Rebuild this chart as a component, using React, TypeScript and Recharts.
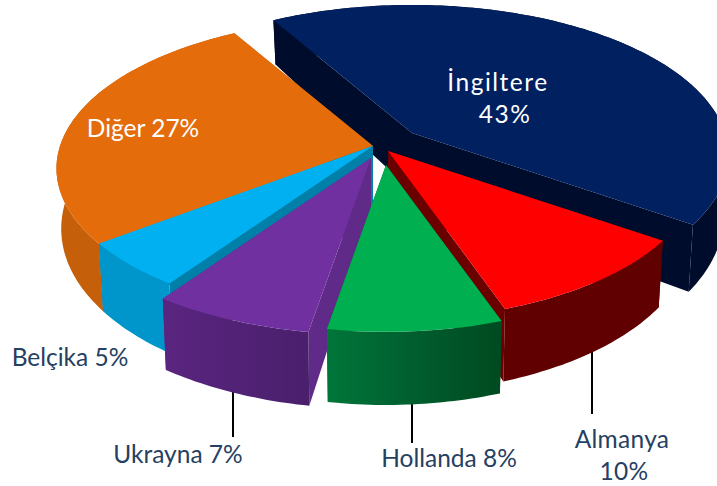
import React from 'react';
import { PieChart, Pie } from 'recharts';

const names = ['İngiltere', 'Almanya', 'Hollanda', 'Ukrayna', 'Belçika', 'Diğer'];
const shares = [43, 10, 8, 7, 5, 27];

const data = names.map((name, i) => ({ name, value: shares[i] }));

// back to front, so every slice's side wall ends up under its neighbour's top
const paintOrder = ['İngiltere', 'Diğer', 'Belçika', 'Almanya', 'Ukrayna', 'Hollanda'];

const looks: Record<string, { top: string; wall: string; side: string; dx: number; dy: number; grow: number }> = {
  'İngiltere': { top: '#002060', wall: '#000c2c', side: '#000c2c', dx: 37, dy: -17, grow: 1 },
  'Almanya': { top: '#ff0000', wall: '#600000', side: '#6b0000', dx: 13, dy: 1, grow: 0.98 },
  'Hollanda': { top: '#00b050', wall: 'url(#wall-green)', side: '#005c2a', dx: 11, dy: 15, grow: 0.97 },
  'Ukrayna': { top: '#7030a0', wall: 'url(#wall-purple)', side: '#5f2a88', dx: -4, dy: 8, grow: 1.02 },
  'Belçika': { top: '#00b0f0', wall: '#0096cb', side: '#0080a8', dx: -2, dy: -4, grow: 1 },
  'Diğer': { top: '#e46c0a', wall: '#c55f0a', side: '#a85008', dx: -2, dy: -4, grow: 1 },
};

const TILT = 0.47;
const FOCAL = 2100;

// ground plane point -> screen offset, with some perspective
const project = (X: number, Y: number, low: boolean) => {
  const s = FOCAL / (FOCAL - Y);
  const depth = low ? 58 + 0.05 * Y : 0;
  return [X * s * (low ? 0.985 : 1), Y * TILT * s + depth];
};

const Slice3D = (props: any) => {
  const { cx, cy, outerRadius, startAngle, endAngle, name } = props;
  const look = looks[name];
  const R = outerRadius * look.grow;
  const ax = cx + look.dx;
  const ay = cy + look.dy;
  const pt = (deg: number, r: number, low: boolean) => {
    const a = (deg * Math.PI) / 180;
    const [x, y] = project(r * Math.cos(a), -r * Math.sin(a), low);
    return `${(ax + x).toFixed(1)},${(ay + y).toFixed(1)}`;
  };
  const steps = Math.max(2, Math.ceil(Math.abs(endAngle - startAngle)));
  const rimHigh: string[] = [];
  const rimLow: string[] = [];
  for (let i = 0; i <= steps; i++) {
    const deg = startAngle + ((endAngle - startAngle) * i) / steps;
    rimHigh.push(pt(deg, R, false));
    rimLow.push(pt(deg, R, true));
  }
  const apexHigh = pt(0, 0, false);
  const apexLow = pt(0, 0, true);
  return (
    <g>
      <polygon fill={look.side} points={[apexHigh, rimHigh[0], rimLow[0], apexLow].join(' ')} />
      <polygon fill={look.side} points={[apexHigh, rimHigh[steps], rimLow[steps], apexLow].join(' ')} />
      <polygon fill={look.wall} points={[...rimHigh, ...[...rimLow].reverse()].join(' ')} />
      <polygon fill={look.top} points={[apexHigh, ...rimHigh].join(' ')} />
    </g>
  );
};

const onlySlice = (wanted: string) => (props: any) =>
  props.name === wanted ? <Slice3D {...props} /> : <g />;

const DARK = '#254061';

// where each label sits; two rows means name and share are split
const spots: Record<string, { fill: string; spacing: number; rows: number[][] }> = {
  'İngiltere': { fill: '#fff', spacing: 1.5, rows: [[498, 91], [505, 123]] },
  'Almanya': { fill: DARK, spacing: 0.3, rows: [[622, 448], [624, 480]] },
  'Hollanda': { fill: DARK, spacing: 0, rows: [[449, 467]] },
  'Ukrayna': { fill: DARK, spacing: 0, rows: [[178, 463]] },
  'Belçika': { fill: DARK, spacing: 0, rows: [[70, 366]] },
  'Diğer': { fill: '#fff', spacing: 0, rows: [[143, 137]] },
};

const sliceLabel = (props: any) => {
  const { name, value } = props;
  const { fill, spacing, rows } = spots[name];
  const common = {
    fill,
    letterSpacing: spacing,
    textAnchor: 'middle' as const,
    fontFamily: 'Lato, sans-serif',
    fontSize: 24.5,
  };
  if (rows.length === 1) {
    return <text {...common} x={rows[0][0]} y={rows[0][1]}>{`${name} ${value}%`}</text>;
  }
  return (
    <g>
      <text {...common} x={rows[0][0]} y={rows[0][1]}>{name}</text>
      <text {...common} x={rows[1][0]} y={rows[1][1]}>{`${value}%`}</text>
    </g>
  );
};

export default function App() {
  return (
    <div style={{ position: 'absolute', left: 0, top: 0, width: 717, height: 486 }}>
      <PieChart width={717} height={486} margin={{ top: 0, right: 0, bottom: 0, left: 0 }}>
        <defs>
          <linearGradient id="wall-green" x1="0" y1="0" x2="1" y2="0">
            <stop offset="0" stopColor="#00763a" />
            <stop offset="0.45" stopColor="#006030" />
            <stop offset="1" stopColor="#004a20" />
          </linearGradient>
          <linearGradient id="wall-purple" x1="0" y1="0" x2="1" y2="0">
            <stop offset="0" stopColor="#5a2580" />
            <stop offset="1" stopColor="#4a1f6c" />
          </linearGradient>
        </defs>
        <g stroke="#000" strokeWidth={2}>
          <line x1={592} y1={352} x2={592} y2={414} />
          <line x1={412} y1={402} x2={412} y2={443} />
          <line x1={233} y1={386} x2={233} y2={437} />
        </g>
        {paintOrder.map((wanted, i) => (
          <Pie
            key={wanted}
            data={data}
            dataKey="value"
            nameKey="name"
            cx={375}
            cy={150}
            innerRadius={0}
            outerRadius={313}
            startAngle={120}
            endAngle={-240}
            stroke="none"
            isAnimationActive={false}
            shape={onlySlice(wanted)}
            label={i === paintOrder.length - 1 ? sliceLabel : false}
            labelLine={false}
          />
        ))}
      </PieChart>
    </div>
  );
}
